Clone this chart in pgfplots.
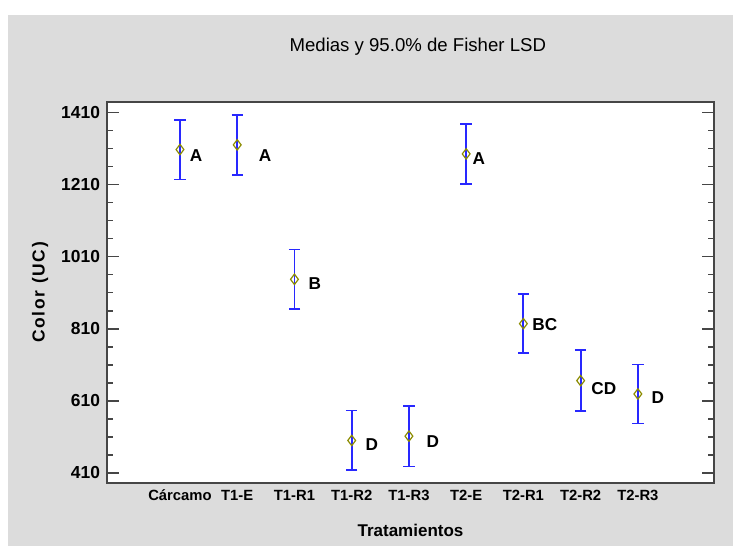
\documentclass[border=0pt]{standalone}
\usepackage{fontspec}
\setmainfont{Liberation Sans}
\usepackage{pgfplots}
\usepackage{pgfplotstable}
\pgfplotsset{compat=1.18}

\definecolor{bgray}{RGB}{220,220,220}
\definecolor{meanc}{RGB}{140,140,0}
\definecolor{barc}{RGB}{40,40,255}
\definecolor{axc}{RGB}{70,70,70}

% x, mean, half LSD interval, label position and group letters
\pgfplotstableread{
x y err lx ly lab
0 1307 83 0.28 1289 A
1 1320 84 1.485 1289 A
2 947 83 2.358 934 B
3 500 83 3.354 488 D
4 512 84 4.419 497 D
5 1295 84 5.223 1281 A
6 824 82 6.376 821 BC
7 666 84 7.406 644 CD
8 629 82 8.35 619 D
}\datatable

\begin{document}
\begin{tikzpicture}
\fill[bgray] (4pt,0) rectangle (366.5pt,265.5pt);
\path (0,0) rectangle (366.5pt,273pt);
\begin{axis}[
  at={(53.5pt,31.5pt)}, anchor=south west,
  scale only axis,
  width=303.5pt, height=190.5pt,
  axis background/.style={fill=white},
  xmin=-1.275, xmax=9.33,
  ymin=382, ymax=1439,
  xtick={0,...,8},
  xticklabels={Cárcamo,T1-E,T1-R1,T1-R2,T1-R3,T2-E,T2-R1,T2-R2,T2-R3},
  xtick pos=bottom,
  x tick style={draw=none},
  ytick={410,610,...,1410},
  minor y tick num=3,
  ytick pos=both,
  tick align=inside,
  major tick length=5.8pt,
  minor tick length=3pt,
  y tick style={axc, line width=0.8pt},
  axis line style={axc, line width=1pt},
  /pgf/number format/assume math mode=true,
  /pgf/number format/1000 sep={},
  yticklabel style={font=\bfseries\fontsize{8.7}{10}\selectfont},
  xticklabel style={font=\bfseries\fontsize{7.4}{9}\selectfont},
  ylabel={Color (UC)},
  ylabel style={at={(axis description cs:-0.11,0.5)}, anchor=center,
    font=\bfseries\fontsize{8.7}{10}\selectfont\addfontfeatures{LetterSpace=10}},
  xlabel={Tratamientos},
  xlabel style={at={(axis description cs:0.5,-0.1234)}, anchor=center,
    font=\bfseries\fontsize{8.5}{10}\selectfont},
  title={Medias y 95.0\% de Fisher LSD},
  title style={at={(axis description cs:0.512,1.114)}, anchor=center,
    font=\fontsize{9.3}{10}\selectfont},
]
\addplot[only marks, mark=diamond, mark size=2.6pt,
  mark options={draw=meanc, line width=0.6pt},
  error bars/.cd, y dir=both, y explicit,
  error bar style={barc, line width=0.9pt},
  error mark options={rotate=90, mark size=2.85pt, barc, line width=0.9pt}]
  table[x=x, y=y, y error=err] {\datatable};
\addplot[draw=none, mark=none, nodes near coords, point meta=explicit symbolic,
  every node near coord/.append style={anchor=center,
    font=\bfseries\fontsize{8.6}{10}\selectfont}]
  table[x=lx, y=ly, meta=lab] {\datatable};
\end{axis}
\end{tikzpicture}
\end{document}
